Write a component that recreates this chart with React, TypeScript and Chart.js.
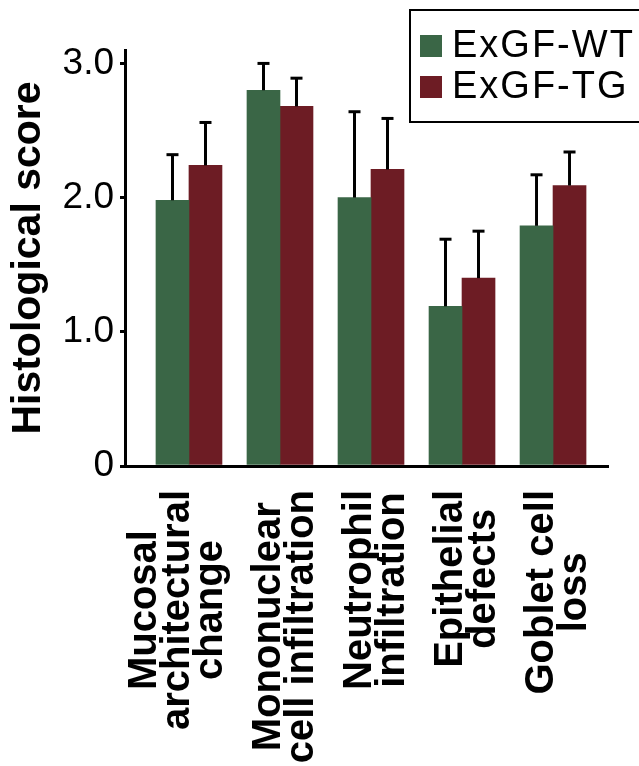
import React, { useEffect, useRef } from 'react';
import { Chart, registerables } from 'chart.js';

Chart.register(...registerables);

// ---- data ----
const CATEGORIES: string[][] = [
  ['Mucosal', 'architectural', 'change'],
  ['Mononuclear', 'cell infiltration'],
  ['Neutrophil', 'infiltration'],
  ['Epithelial', 'defects'],
  ['Goblet cell', 'loss'],
];
const SERIES_NAMES = ['ExGF-WT', 'ExGF-TG'];
const WT_MEANS = [1.98, 2.8, 2.0, 1.19, 1.79];
const WT_ERRORS = [0.34, 0.2, 0.64, 0.5, 0.38];
const TG_MEANS = [2.24, 2.68, 2.21, 1.4, 2.09];
const TG_ERRORS = [0.32, 0.21, 0.38, 0.35, 0.25];
const Y_TICKS = [0, 1, 2, 3];
const Y_TICK_LABELS = ['0', '1.0', '2.0', '3.0'];
const Y_TITLE = 'Histological score';

const GREEN = '#3a6646';
const RED = '#6d1c24';
const FONT = '"Liberation Sans", Arial, Helvetica, sans-serif';

const errorBarPlugin = {
  id: 'errorBars',
  afterDatasetsDraw(chart: any) {
    const ctx = chart.ctx;
    const yScale = chart.scales.y;
    chart.data.datasets.forEach((ds: any, di: number) => {
      const meta = chart.getDatasetMeta(di);
      meta.data.forEach((bar: any, i: number) => {
        const v = ds.data[i].y + ds.errors[i];
        const top = yScale.getPixelForValue(v);
        ctx.save();
        ctx.strokeStyle = '#000';
        ctx.lineWidth = 3;
        ctx.beginPath();
        ctx.moveTo(bar.x, bar.y);
        ctx.lineTo(bar.x, top);
        ctx.stroke();
        ctx.beginPath();
        ctx.moveTo(bar.x - 6, top);
        ctx.lineTo(bar.x + 6, top);
        ctx.stroke();
        ctx.restore();
      });
    });
  },
};

const xLabelPlugin = {
  id: 'xLabels',
  afterDraw(chart: any) {
    const ctx = chart.ctx;
    const xScale = chart.scales.x;
    const lh = 33;
    ctx.save();
    ctx.font = `bold 40px ${FONT}`;
    ctx.fillStyle = '#000';
    ctx.textAlign = 'center';
    ctx.textBaseline = 'alphabetic';
    CATEGORIES.forEach((lines, i) => {
      const cx = xScale.getPixelForValue(i);
      const w = Math.max(...lines.map((l) => ctx.measureText(l).width));
      const yc = xScale.top + 24 + w / 2;
      const n = lines.length;
      lines.forEach((line, k) => {
        const bx = cx + (k - (n - 1) / 2) * lh + (3 - n) * 16.5;
        ctx.save();
        ctx.translate(bx, yc);
        ctx.rotate(-Math.PI / 2);
        ctx.fillText(line, 0, 0);
        ctx.restore();
      });
    });
    ctx.restore();
  },
};

const legendPlugin = {
  id: 'customLegend',
  afterDraw(chart: any) {
    const ctx = chart.ctx;
    ctx.save();
    ctx.strokeStyle = '#000';
    ctx.lineWidth = 2;
    ctx.strokeRect(410, 10, 240, 112);
    const colors = [GREEN, RED];
    ctx.font = `38px ${FONT}`;
    (ctx as any).letterSpacing = '2px';
    ctx.fillStyle = '#000';
    ctx.textBaseline = 'alphabetic';
    ctx.textAlign = 'left';
    SERIES_NAMES.forEach((name, i) => {
      const base = 57 + i * 41;
      ctx.fillStyle = colors[i];
      ctx.fillRect(420, base - 22, 22, 22);
      ctx.fillStyle = '#000';
      ctx.fillText(name, 452, base);
    });
    ctx.restore();
  },
};

export default function App() {
  const canvasRef = useRef<HTMLCanvasElement | null>(null);

  useEffect(() => {
    if (!canvasRef.current) return;
    const chart = new Chart(canvasRef.current, {
      type: 'bar',
      data: {
        datasets: [
          {
            label: SERIES_NAMES[0],
            data: WT_MEANS.map((y, i) => ({ x: i, y })),
            errors: WT_ERRORS,
            backgroundColor: GREEN,
            borderWidth: 0,
            barThickness: 33,
          } as any,
          {
            label: SERIES_NAMES[1],
            data: TG_MEANS.map((y, i) => ({ x: i, y })),
            errors: TG_ERRORS,
            backgroundColor: RED,
            borderWidth: 0,
            barThickness: 33,
          } as any,
        ],
      },
      options: {
        animation: false,
        responsive: false,
        devicePixelRatio: 1,
        layout: { padding: { top: 50, right: 31, left: 0, bottom: 0 } },
        plugins: {
          legend: { display: false },
          tooltip: { enabled: false },
        },
        scales: {
          x: {
            type: 'linear',
            min: -0.703,
            max: 4.604,
            offset: false,
            grid: { display: false },
            ticks: { display: false },
            border: { display: true, color: '#000', width: 3 },
            afterFit: (s: any) => {
              s.height = 300;
            },
          },
          y: {
            type: 'linear',
            min: 0,
            max: 3.1,
            grid: {
              display: true,
              drawOnChartArea: false,
              drawTicks: true,
              tickLength: 5,
              color: '#000',
              lineWidth: 3,
            },
            border: { display: true, color: '#000', width: 3 },
            afterBuildTicks: (s: any) => {
              s.ticks = Y_TICKS.map((v) => ({ value: v }));
            },
            ticks: {
              padding: 6,
              color: '#000',
              font: { family: FONT, size: 37 },
              callback: (v: any) => {
                const idx = Y_TICKS.indexOf(Number(v));
                return idx >= 0 ? Y_TICK_LABELS[idx] : '';
              },
            },
            title: {
              display: true,
              text: Y_TITLE,
              color: '#000',
              font: { family: FONT, size: 41, weight: 'bold', lineHeight: 1.2 },
              padding: { top: 4, bottom: 0 },
            },
            afterFit: (s: any) => {
              s.width = 125;
            },
          },
        },
      } as any,
      plugins: [errorBarPlugin, xLabelPlugin, legendPlugin],
    });
    return () => chart.destroy();
  }, []);

  return (
    <div style={{ position: 'absolute', left: 0, top: 0, width: 639, height: 766, background: '#fff' }}>
      <canvas ref={canvasRef} width={639} height={766} style={{ width: 639, height: 766, display: 'block' }} />
    </div>
  );
}
